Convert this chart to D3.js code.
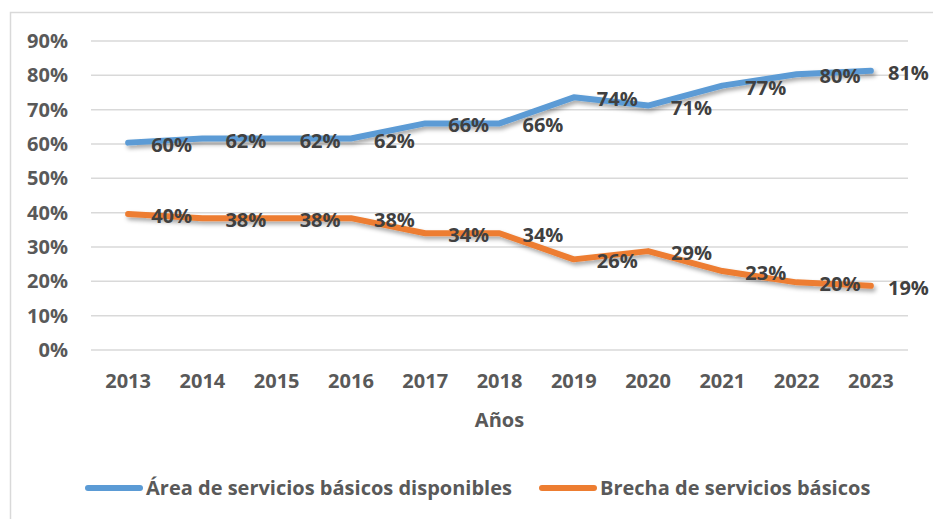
<!DOCTYPE html>
<html>
<head>
<meta charset="utf-8">
<script src="https://cdn.jsdelivr.net/npm/d3@7"></script>
<style>
  body { margin: 0; background: #fff; }
  text { font-family: "Open Sans", sans-serif; font-weight: bold; }
</style>
</head>
<body>
<div id="chart-container"></div>
<script>
const years = ["2013", "2014", "2015", "2016", "2017", "2018", "2019", "2020", "2021", "2022", "2023"];
const disponibles = [0.604, 0.616, 0.616, 0.616, 0.66, 0.66, 0.736, 0.712, 0.77, 0.803, 0.813];
const brecha = [0.396, 0.384, 0.384, 0.384, 0.34, 0.34, 0.264, 0.288, 0.23, 0.197, 0.187];
const yTicks = [0, 0.1, 0.2, 0.3, 0.4, 0.5, 0.6, 0.7, 0.8, 0.9];
const seriesNames = ["Área de servicios básicos disponibles", "Brecha de servicios básicos"];
const colors = ["#5B9BD5", "#ED7D31"];

const W = 933, H = 519;
const plot = { left: 91, right: 908, top: 41, bottom: 350 };

const svg = d3
  .select("#chart-container")
  .append("svg")
  .attr("width", W)
  .attr("height", H);

// chart area border (runs off the right and bottom edge)
svg.append("rect")
  .attr("x", 10.5).attr("y", 12.5)
  .attr("width", W).attr("height", H)
  .attr("fill", "none")
  .attr("stroke", "#D9D9D9")
  .attr("stroke-width", 1.5);

const defs = svg.append("defs");
defs.append("filter")
  .attr("id", "shadow")
  .attr("x", "-10%").attr("y", "-50%")
  .attr("width", "120%").attr("height", "200%")
  .append("feDropShadow")
  .attr("dx", 2).attr("dy", 3)
  .attr("stdDeviation", 2)
  .attr("flood-color", "#000")
  .attr("flood-opacity", 0.35);

const x = d3.scaleBand().domain(years).range([plot.left, plot.right]);
const y = d3.scaleLinear().domain([0, 0.9]).range([plot.bottom, plot.top]);
const cx = (d) => x(d) + x.bandwidth() / 2;

// gridlines
svg.append("g")
  .selectAll("line")
  .data(yTicks)
  .enter()
  .append("line")
  .attr("x1", plot.left).attr("x2", plot.right)
  .attr("y1", (d) => y(d)).attr("y2", (d) => y(d))
  .attr("stroke", "#D9D9D9")
  .attr("stroke-width", 1.5);

// y tick labels
svg.append("g")
  .selectAll("text")
  .data(yTicks)
  .enter()
  .append("text")
  .attr("x", 68)
  .attr("y", (d) => y(d))
  .attr("dy", "0.35em")
  .attr("text-anchor", "end")
  .attr("font-size", 20)
  .attr("fill", "#595959")
  .text((d) => d3.format(".0%")(d));

// x tick labels
svg.append("g")
  .selectAll("text")
  .data(years)
  .enter()
  .append("text")
  .attr("x", (d) => cx(d))
  .attr("y", 388)
  .attr("text-anchor", "middle")
  .attr("font-size", 20)
  .attr("fill", "#595959")
  .text((d) => d);

// axis title
svg.append("text")
  .attr("x", (plot.left + plot.right) / 2)
  .attr("y", 427)
  .attr("text-anchor", "middle")
  .attr("font-size", 20)
  .attr("fill", "#595959")
  .text("Años");

const line = d3.line()
  .x((d, i) => cx(years[i]))
  .y((d) => y(d));

[disponibles, brecha].forEach(function (values, s) {
  svg.append("path")
    .datum(values)
    .attr("fill", "none")
    .attr("stroke", colors[s])
    .attr("stroke-width", 6)
    .attr("stroke-linecap", "round")
    .attr("stroke-linejoin", "round")
    .attr("filter", "url(#shadow)")
    .attr("d", line);
});

[disponibles, brecha].forEach(function (values, s) {
  svg.append("g")
    .selectAll("text")
    .data(values)
    .enter()
    .append("text")
    .attr("x", (d, i) => Math.min(cx(years[i]) + 23, 888))
    .attr("y", (d) => y(d) + 2)
    .attr("dy", "0.35em")
    .attr("font-size", 20)
    .attr("fill", "#404040")
    .text((d) => d3.format(".0%")(d));
});

// legend
const legendX = [86, 540];
seriesNames.forEach(function (name, s) {
  const g = svg.append("g").attr("transform", `translate(${legendX[s]}, 488)`);
  g.append("line")
    .attr("x1", 2).attr("x2", 54)
    .attr("stroke", colors[s])
    .attr("stroke-width", 6)
    .attr("stroke-linecap", "round");
  g.append("text")
    .attr("x", 60)
    .attr("y", 0)
    .attr("dy", "0.35em")
    .attr("font-size", 20)
    .attr("fill", "#595959")
    .text(name);
});
</script>
</body>
</html>
